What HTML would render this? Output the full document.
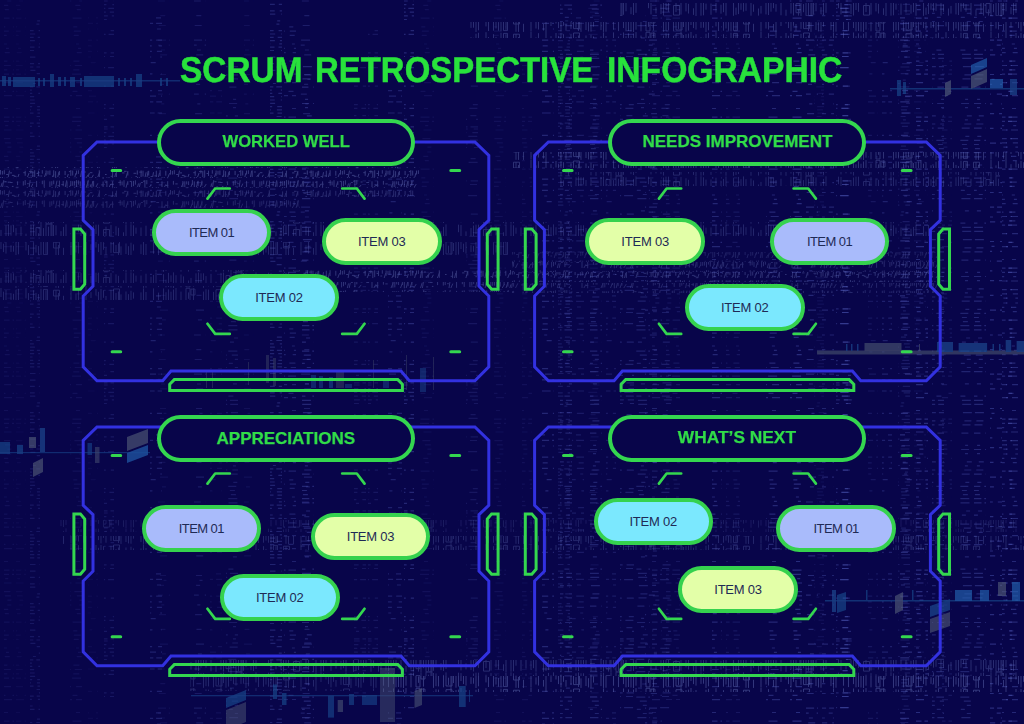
<!DOCTYPE html>
<html><head><meta charset="utf-8"><title>Scrum Retrospective Infographic</title>
<style>
html,body{margin:0;padding:0;}
body{width:1024px;height:724px;overflow:hidden;background:#08054a;position:relative;font-family:"Liberation Sans",sans-serif;}
#art{position:absolute;left:0;top:0;width:1024px;height:724px;}
.title{position:absolute;top:50px;height:40px;line-height:40px;font-size:35.8px;font-weight:bold;color:#28e23c;-webkit-text-stroke:0.5px #28e23c;text-rendering:geometricPrecision;white-space:nowrap;transform-origin:0 50%;}
.head{position:absolute;box-sizing:border-box;width:258px;height:47px;line-height:39px;border:4px solid #34d74f;border-radius:24px;background:#08054a;color:#31dc48;-webkit-text-stroke:0.25px #31dc48;font-weight:bold;font-size:17px;text-align:center;white-space:nowrap;}
.head span{display:inline-block;}
.item{position:absolute;box-sizing:border-box;width:119.5px;height:47px;border:4px solid #35d24e;border-radius:24px;color:#1f2a55;font-size:13px;letter-spacing:-0.22px;text-align:center;line-height:39px;white-space:nowrap;}
.c1{background:#a9bbfb;letter-spacing:-0.55px;}
.c2{background:#7be8fe;}
.c3{background:#e3ffa8;}
</style></head>
<body>
<svg id="art" width="1024" height="724" viewBox="0 0 1024 724">
<defs>
<filter id="soft" x="0" y="0" width="1024" height="724" filterUnits="userSpaceOnUse"><feGaussianBlur stdDeviation="0.45"/></filter>
<pattern id="dc0" width="12" height="128" patternUnits="userSpaceOnUse"><path d="M5.7,1h6 M4.4,4.7h6 M0.3,8.4h9 M1.8,12.1h8 M3.8,15.8h8 M5.9,19.5h5 M2.6,30.6h5 M0.6,34.3h9 M2.6,52.8h8 M2,56.5h7 M0.1,67.6h9 M2.8,86.1h7 M4.8,104.6h5 M1.4,108.3h8 M2.4,115.7h6 M8,119.4h3 M2.5,126.8h9" stroke="#5a66c8" stroke-width="1.2" fill="none"/></pattern>
<pattern id="dc1" width="12" height="151" patternUnits="userSpaceOnUse"><path d="M7.3,1h4 M3.3,5.3h5 M4.8,9.6h4 M0.6,18.2h9 M1.3,26.8h4 M1.8,31.1h7 M1.7,35.4h5 M3.9,44h3 M5.9,48.3h3 M4.7,52.6h5 M1.4,61.2h6 M2.7,65.5h8 M1.3,69.8h6 M0.1,74.1h9 M4.1,82.7h7 M0.5,91.3h5 M4,95.6h8 M4,108.5h4 M0.5,117.1h9 M0,121.4h9 M5.2,125.7h3 M3.5,130h8 M2.4,138.6h8 M4.8,142.9h6 M7.4,147.2h4" stroke="#5a66c8" stroke-width="1.2" fill="none"/></pattern>
<pattern id="dc2" width="12" height="167" patternUnits="userSpaceOnUse"><path d="M1.8,1h7 M4.3,15.7h5 M2.7,25.5h7 M1.1,40.2h9 M0.7,45.1h4 M4.9,50h4 M4.2,54.9h7 M4,74.5h6 M7.5,79.4h3 M4.1,84.3h4 M0.8,94.1h6 M5.3,103.9h3 M3.1,113.7h7 M4.5,128.4h5 M4,143.1h8 M5.9,152.9h4" stroke="#5a66c8" stroke-width="1.2" fill="none"/></pattern>
<pattern id="dc3" width="12" height="191" patternUnits="userSpaceOnUse"><path d="M2.8,4.3h8 M3.7,10.9h7 M5.3,14.2h6 M1.2,20.8h3 M0.4,24.1h3 M2.6,30.7h7 M5.2,34h6 M1.7,37.3h8 M3.9,40.6h7 M3.3,43.9h3 M2.5,47.2h8 M5,50.5h5 M4.4,57.1h7 M2.1,63.7h8 M0.4,67h9 M6.4,70.3h5 M0.7,73.6h5 M2.8,80.2h3 M8.9,83.5h3 M0.3,86.8h9 M4.9,90.1h3 M2.3,93.4h6 M5.2,96.7h5 M4.7,100h6 M6.1,103.3h5 M1.2,106.6h7 M0.9,109.9h6 M1.5,113.2h8 M0.6,116.5h5 M2.9,119.8h3 M0.7,123.1h9 M1.9,126.4h6 M3.7,133h5 M2.5,136.3h8 M0.9,146.2h5 M0.3,149.5h8 M3.8,152.8h6 M4.9,156.1h6 M0.9,159.4h9 M2.2,162.7h8 M3.6,166h5 M2.3,169.3h7 M1.3,172.6h9 M1.3,175.9h9 M3.5,182.5h8 M5.5,189.1h6" stroke="#5a66c8" stroke-width="1.2" fill="none"/></pattern>
<pattern id="dc4" width="12" height="139" patternUnits="userSpaceOnUse"><path d="M0,17.8h5 M0.1,23.4h9 M0.9,29h4 M0.2,40.2h8 M2.7,45.8h5 M0.9,51.4h7 M4.2,57h3 M6.7,62.6h5 M5.4,73.8h3 M2.1,90.6h6 M5,96.2h7 M0.3,101.8h9 M1.6,113h9 M0.9,135.4h7" stroke="#5a66c8" stroke-width="1.2" fill="none"/></pattern>
<pattern id="dc5" width="12" height="173" patternUnits="userSpaceOnUse"><path d="M0.3,5.1h9 M3.8,9.2h7 M6.8,13.3h4 M0.8,17.4h4 M6.8,21.5h4 M1.4,25.6h9 M4.9,37.9h4 M0.4,50.2h5 M1.9,54.3h9 M2.2,58.4h9 M2.9,66.6h9 M4.4,74.8h7 M2.5,78.9h8 M1.4,87.1h7 M5.1,99.4h3 M1.1,103.5h8 M5,107.6h3 M6.8,115.8h5 M4.9,119.9h3 M4.3,124h7 M1.7,128.1h8 M5.3,136.3h4 M0.3,140.4h8 M1.9,144.5h5 M2.9,148.6h5 M0.3,152.7h9 M0.5,156.8h9 M6.1,165h4 M1.9,169.1h4" stroke="#5a66c8" stroke-width="1.2" fill="none"/></pattern>
<pattern id="tk0" width="190" height="16" patternUnits="userSpaceOnUse"><path d="M1,5.9v7.7 M6,1.3v13.1 M8.5,0.5v14.5 M11,1.3v10.4 M13.5,1.3v6.9 M16,4.1v7.6 M21,2.7v12.6 M26,9.7v6.1 M31,0.9v12.7 M33.5,0.6v14.9 M36,3.5v9.2 M36,3.5h4v9.2h-4 M38.5,9.3v6.3 M41,0.2v15.8 M43.5,4.1v8.1 M46,0.1v15.7 M46,0.1h6v15.7h-6 M48.5,2.7v12.4 M51,0.5v15.5 M53.5,1v13.8 M56,1.4v9.9 M61,7.2v7 M63.5,2.9v12.1 M66,0.4v12.5 M78.5,0.7v7.5 M81,1.1v13.3 M86,7.4v6 M91,4.1v10 M93.5,1.5v14 M96,0.7v9.3 M98.5,0.7v11.1 M103.5,5.5v9.6 M103.5,5.5h6v9.6h-6 M106,2.7v9.4 M111,1.1v13.5 M116,2.3v9.1 M118.5,3.8v9.7 M123.5,8.3v6.6 M126,0.4v15.6 M131,0.3v15.4 M133.5,1.3v14 M136,3.6v6.1 M141,3.5v11.3 M146,1.7v10.9 M151,4.7v9 M153.5,2.9v9.3 M156,0.5v15.2 M163.5,2.2v13.6 M166,7.6v7.3 M168.5,0.9v13.2 M171,3.3v6.6 M173.5,0.4v11.2 M176,3.2v7.6 M181,2.5v13.2 M183.5,4.4v7.4 M188.5,8.5v7.1" stroke="#6f7fc4" stroke-width="0.9" fill="none"/></pattern>
<pattern id="tk1" width="230" height="16" patternUnits="userSpaceOnUse"><path d="M1,0v9 M3.5,3.7v8.4 M6,2.1v11.5 M11,5.2v6.7 M13.5,5.8v5.9 M16,1.7v14.3 M18.5,0.8v13.5 M26,0.2v10.2 M28.5,5.1v9.9 M33.5,2.2v12.5 M36,4.9v7.6 M38.5,6.1v8.6 M41,0.7v14.7 M43.5,1.4v13.2 M43.5,1.4h4v13.2h-4 M46,2.2v11.7 M53.5,2.2v5.8 M53.5,2.2h6v5.8h-6 M56,2.1v13.7 M58.5,5v10.9 M63.5,7.8v8.1 M71,0v15.6 M76,5.4v7.1 M78.5,1.2v12.3 M83.5,8v6.6 M86,0v16 M91,4.2v5.8 M96,1v6.5 M98.5,3.8v8.3 M101,0.9v14.5 M103.5,2.2v7.6 M106,8v6.7 M111,1.8v11.1 M113.5,1v11.6 M113.5,1h6v11.6h-6 M116,5.1v6.7 M118.5,3.5v11.5 M121,6.4v9.5 M126,3.5v10.5 M128.5,6.2v9.2 M131,2.7v13 M133.5,4.4v6.2 M141,4.4v9.7 M143.5,0.4v15.5 M146,4v11.7 M153.5,0.4v13.3 M158.5,4.6v10.5 M163.5,0.5v11.6 M166,4.3v11 M168.5,1.4v13.6 M171,3.7v11.8 M173.5,1.5v14.5 M176,0.1v13.6 M181,3.6v11.7 M186,0.3v14.7 M186,0.3h4v14.7h-4 M188.5,4.4v6.4 M191,1.1v5.9 M191,1.1h4v5.9h-4 M193.5,0.3v14.3 M203.5,3.6v12.2 M206,1.3v12.9 M208.5,1.6v12.8 M213.5,3.9v11.4 M216,1.7v12.3 M216,1.7h6v12.3h-6 M218.5,5.7v7.2 M221,0v15.8 M223.5,3v8 M226,2.1v13.6 M228.5,1.6v13" stroke="#6f7fc4" stroke-width="0.9" fill="none"/></pattern>
<pattern id="gl0" width="170" height="10" patternUnits="userSpaceOnUse"><path d="M0.5,0v4.6 M2.4,0.9v3.7 M4.3,0.2v4.1 M6.2,4.5h2.3 M8.1,8l1.4,-7.4 M10,2.9h2 M11.9,5.4h2.7 M13.8,6.3h2.7 M15.7,7.7h2.6 M17.6,8l1.4,-4 M23.3,2.7h2.1 M25.2,0.8v5 M27.1,8l2,-5 M29,1.6h3 M30.9,0.3v3.2 M32.8,0.9v7.2 M34.7,0.3v6.9 M36.6,3.5h2.4 M38.5,0.7v5.3 M40.4,6h1.8 M42.3,0.2v3.5 M44.2,8l1.5,-4.8 M46.1,0.5v5.3 M48,0.8v3.7 M49.9,0.5v4.4 M51.8,8l1.9,-3.6 M53.7,0.3v6.6 M55.6,1.2v6.9 M57.5,8l1.5,-6.1 M59.4,1v4.1 M65.1,0.9v4.2 M67,8l1.3,-4 M68.9,1.6h1.7 M70.8,0.1v5.8 M72.7,0.6v4.9 M74.6,8l1.2,-4.8 M76.5,0.6v3.9 M78.4,0.3v3.6 M80.3,8l1.3,-7.2 M82.2,0.5v7.4 M84.1,2h1.7 M86,8l2.3,-3.5 M87.9,8l1.4,-5 M89.8,2.7h2.6 M91.7,8l1.7,-3.2 M97.4,8l2.4,-6.1 M99.3,0.3v7.5 M105,4.5h1.6 M110.7,6.3h2.1 M112.6,1.4v6.8 M114.5,8l1.3,-5 M116.4,0.7v7.2 M122.1,2.9h2.4 M124,1.3h2.6 M125.9,8l1.7,-5.9 M127.8,1v4.5 M133.5,3.3h2.8 M135.4,6.7h1.7 M137.3,0.4v4.3 M139.2,2.1h2.8 M141.1,0.4v6.8 M143,0.7v5.8 M144.9,8l1.2,-5.7 M146.8,8l1.4,-7 M148.7,0.8v4.7 M150.6,6.6h2 M152.5,8l1,-5.8 M154.4,5.9h2.7 M156.3,0.7v7.3 M158.2,8l1.3,-5.2 M160.1,0.2v5.9 M165.8,0.8v4.9 M167.7,8l1.9,-4.8" stroke="#7380c4" stroke-width="1" fill="none"/></pattern>
<pattern id="gl1" width="210" height="10" patternUnits="userSpaceOnUse"><path d="M0.5,8l1.7,-5.3 M2.4,8l1.4,-7.9 M4.3,1.7h2.2 M6.2,6.9h2 M8.1,2.2h2.7 M10,2.5h2.6 M11.9,6.4h1.5 M17.6,1.4v3.7 M23.3,1.2v4.4 M25.2,0.1v5 M27.1,3.7h1.7 M29,8l1.2,-7.8 M30.9,8l1.9,-4.4 M36.6,0.9v6.9 M42.3,0.7v3.5 M44.2,0.4v6.5 M49.9,1.4v5.7 M51.8,1.2v4.5 M53.7,0.5v3.7 M55.6,8l1.4,-7.3 M57.5,5.7h1.6 M59.4,0.6v6.8 M61.3,4.6h2.7 M63.2,1v5.2 M65.1,8l1.6,-7.7 M67,1.4v5.4 M68.9,8l1.8,-3.2 M70.8,0.9v5.1 M72.7,1.2v4.6 M74.6,1.2v4.4 M76.5,0.1v7.3 M78.4,0.4v4.2 M80.3,1.4v5.2 M82.2,8l2.3,-3.8 M84.1,1.1v4 M86,8l2.5,-7.6 M87.9,0.6v6 M89.8,8l1.2,-3.6 M91.7,8l1,-6.9 M93.6,0.9v5.7 M95.5,8l2.3,-4.6 M101.2,4.9h2.4 M103.1,1.5v7.4 M105,2.2h2.1 M106.9,0.9v6.8 M108.8,8l1.8,-3.9 M110.7,4.2h2.9 M112.6,1.3v6.5 M118.3,2.4h2.8 M120.2,0.2v5.4 M122.1,1.4v3.9 M124,0.2v6.7 M125.9,8l1.6,-5.7 M127.8,1.1v3.8 M129.7,1.4h2 M131.6,1.4v6 M133.5,0.9v5.3 M135.4,0.3v4.4 M137.3,8l1.2,-4.5 M139.2,8l1.1,-5.2 M141.1,2.5h1.7 M143,1.2h2 M144.9,0.1v7 M146.8,0.1v4.2 M148.7,8l2.5,-3.1 M150.6,2h1.9 M156.3,2.5h2.8 M162,1.3v6.6 M163.9,8l2.1,-3.7 M165.8,5.5h2.4 M167.7,1.2v7.1 M173.4,0.9v3.8 M175.3,3.9h2.4 M181,8l2.3,-5.5 M182.9,1v6.7 M184.8,1.3v6.1 M186.7,1.3v3.1 M188.6,1.3v3.7 M190.5,8l1.9,-4.8 M192.4,0.1v4.9 M194.3,1.4v6.9 M196.2,8l1.7,-6.8 M198.1,0.8v5.4 M200,8l2.1,-6.2 M201.9,0.7v4.9 M203.8,8l2.4,-3.9" stroke="#7380c4" stroke-width="1" fill="none"/></pattern>
<g id="frame" fill="none" stroke-linejoin="miter">
<path stroke="#3231e0" stroke-width="3" d="M97,142 L474.9,142 L488.8,155.5 L488.8,220.3 L479,229.6 L479,286.2 L488.8,296 L488.8,366.8 L474.9,380.8 L409.3,380.8 L401,371 L171,371 L162.7,380.8 L97,380.8 L83.2,366.8 L83.2,296 L93,286.2 L93,229.6 L83.2,220.3 L83.2,155.5 Z"/>
<g stroke="#34d74f" stroke-width="3">
<path d="M73.9,228.9 L80.4,228.9 L84.7,234 L84.7,284.1 L80.4,289.2 L73.9,289.2 Z"/>
<path d="M498.1,228.9 L491.6,228.9 L487.3,234 L487.3,284.1 L491.6,289.2 L498.1,289.2 Z"/>
<path d="M169.7,390.6 L169.7,384.3 L174.3,379.6 L397.8,379.6 L402.4,384.3 L402.4,390.6 Z"/>
<path d="M112.1,170.6 H120.7 M450.8,170.6 H459.7 M112.1,351.7 H120.7 M450.8,351.7 H459.7" stroke-linecap="round"/>
<path d="M207.5,198.6 L215.2,188.5 L229.8,188.5 M342.2,188.5 L356.8,188.5 L364.5,198.6 M207.5,323.8 L215.2,333.9 L229.8,333.9 M342.2,333.9 L356.8,333.9 L364.5,323.8" stroke-width="2.7" stroke-linecap="round" stroke-linejoin="round"/>
</g>
</g>
</defs>
<g id="texture" filter="url(#soft)">
<rect x="4" y="0" width="10" height="724" fill="url(#dc1)" opacity="0.12"/>
<rect x="16" y="0" width="10" height="724" fill="url(#dc1)" opacity="0.07"/>
<rect x="30" y="20" width="10" height="704" fill="url(#dc3)" opacity="0.19"/>
<rect x="70" y="0" width="12" height="724" fill="url(#dc1)" opacity="0.12"/>
<rect x="88" y="0" width="10" height="724" fill="url(#dc4)" opacity="0.07"/>
<rect x="104" y="0" width="10" height="700" fill="url(#dc0)" opacity="0.19"/>
<rect x="158" y="0" width="12" height="724" fill="url(#dc2)" opacity="0.12"/>
<rect x="194" y="0" width="12" height="724" fill="url(#dc2)" opacity="0.22"/>
<rect x="210" y="60" width="12" height="664" fill="url(#dc4)" opacity="0.12"/>
<rect x="226" y="60" width="12" height="664" fill="url(#dc5)" opacity="0.22"/>
<rect x="244" y="0" width="10" height="700" fill="url(#dc2)" opacity="0.12"/>
<rect x="284" y="20" width="12" height="680" fill="url(#dc1)" opacity="0.28"/>
<rect x="302" y="60" width="12" height="664" fill="url(#dc5)" opacity="0.34"/>
<rect x="354" y="60" width="12" height="640" fill="url(#dc0)" opacity="0.18"/>
<rect x="368" y="20" width="10" height="640" fill="url(#dc0)" opacity="0.18"/>
<rect x="388" y="60" width="14" height="664" fill="url(#dc4)" opacity="0.28"/>
<rect x="404" y="0" width="10" height="724" fill="url(#dc0)" opacity="0.34"/>
<rect x="420" y="0" width="14" height="660" fill="url(#dc1)" opacity="0.12"/>
<rect x="466" y="60" width="12" height="600" fill="url(#dc0)" opacity="0.18"/>
<rect x="494" y="0" width="12" height="724" fill="url(#dc1)" opacity="0.12"/>
<rect x="522" y="60" width="10" height="664" fill="url(#dc1)" opacity="0.12"/>
<rect x="542" y="20" width="12" height="704" fill="url(#dc4)" opacity="0.34"/>
<rect x="558" y="20" width="12" height="640" fill="url(#dc3)" opacity="0.22"/>
<rect x="572" y="0" width="12" height="660" fill="url(#dc4)" opacity="0.22"/>
<rect x="588" y="0" width="12" height="724" fill="url(#dc0)" opacity="0.12"/>
<rect x="606" y="20" width="10" height="704" fill="url(#dc4)" opacity="0.22"/>
<rect x="620" y="20" width="14" height="704" fill="url(#dc0)" opacity="0.28"/>
<rect x="636" y="20" width="14" height="704" fill="url(#dc5)" opacity="0.28"/>
<rect x="652" y="0" width="10" height="724" fill="url(#dc1)" opacity="0.22"/>
<rect x="666" y="0" width="14" height="700" fill="url(#dc1)" opacity="0.18"/>
<rect x="712" y="0" width="10" height="724" fill="url(#dc1)" opacity="0.34"/>
<rect x="726" y="20" width="14" height="704" fill="url(#dc1)" opacity="0.18"/>
<rect x="766" y="20" width="14" height="704" fill="url(#dc1)" opacity="0.34"/>
<rect x="814" y="0" width="10" height="660" fill="url(#dc3)" opacity="0.12"/>
<rect x="840" y="0" width="12" height="724" fill="url(#dc0)" opacity="0.34"/>
<rect x="868" y="20" width="10" height="704" fill="url(#dc4)" opacity="0.18"/>
<rect x="882" y="60" width="10" height="600" fill="url(#dc4)" opacity="0.28"/>
<rect x="898" y="0" width="12" height="724" fill="url(#dc3)" opacity="0.22"/>
<rect x="914" y="0" width="12" height="700" fill="url(#dc4)" opacity="0.12"/>
<rect x="942" y="60" width="10" height="664" fill="url(#dc1)" opacity="0.18"/>
<rect x="974" y="0" width="12" height="660" fill="url(#dc5)" opacity="0.34"/>
<rect x="1002" y="0" width="10" height="724" fill="url(#dc1)" opacity="0.34"/>
<rect x="790" y="0" width="12" height="724" fill="url(#dc1)" opacity="0.4"/>
<rect x="806" y="0" width="12" height="724" fill="url(#dc2)" opacity="0.35"/>
<rect x="822" y="0" width="12" height="724" fill="url(#dc2)" opacity="0.3"/>
<rect x="900" y="0" width="12" height="724" fill="url(#dc4)" opacity="0.38"/>
<rect x="916" y="0" width="12" height="724" fill="url(#dc1)" opacity="0.4"/>
<rect x="932" y="0" width="12" height="724" fill="url(#dc5)" opacity="0.3"/>
<rect x="990" y="0" width="12" height="724" fill="url(#dc2)" opacity="0.4"/>
<rect x="1006" y="0" width="12" height="724" fill="url(#dc1)" opacity="0.35"/>
<rect x="560" y="0" width="12" height="724" fill="url(#dc5)" opacity="0.3"/>
<rect x="590" y="0" width="12" height="724" fill="url(#dc5)" opacity="0.3"/>
<rect x="645" y="0" width="12" height="724" fill="url(#dc2)" opacity="0.3"/>
<rect x="150" y="0" width="12" height="724" fill="url(#dc4)" opacity="0.28"/>
<rect x="270" y="0" width="12" height="724" fill="url(#dc3)" opacity="0.3"/>
<rect x="300" y="0" width="12" height="724" fill="url(#dc2)" opacity="0.25"/>
<rect x="660" y="0" width="12" height="724" fill="url(#dc0)" opacity="0.25"/>
<rect x="836" y="0" width="12" height="724" fill="url(#dc0)" opacity="0.3"/>
<rect x="960" y="0" width="12" height="724" fill="url(#dc5)" opacity="0.3"/>
<rect x="620" y="3" width="404" height="13" fill="url(#tk0)" opacity="0.36"/>
<rect x="470" y="22" width="554" height="16" fill="url(#tk1)" opacity="0.38"/>
<rect x="0" y="167" width="420" height="10" fill="url(#gl0)" opacity="0.42"/>
<rect x="0" y="177" width="420" height="10" fill="url(#gl1)" opacity="0.4"/>
<rect x="0" y="187" width="415" height="10" fill="url(#gl0)" opacity="0.3"/>
<rect x="0" y="198" width="300" height="10" fill="url(#gl1)" opacity="0.26"/>
<rect x="0" y="222" width="512" height="14" fill="url(#tk0)" opacity="0.32"/>
<rect x="0" y="242" width="512" height="13" fill="url(#tk1)" opacity="0.3"/>
<rect x="0" y="270" width="300" height="13" fill="url(#tk0)" opacity="0.28"/>
<rect x="0" y="286" width="290" height="14" fill="url(#tk1)" opacity="0.3"/>
<rect x="300" y="270" width="212" height="10" fill="url(#gl0)" opacity="0.38"/>
<rect x="300" y="282" width="212" height="10" fill="url(#gl1)" opacity="0.36"/>
<rect x="512" y="152" width="512" height="16" fill="url(#tk1)" opacity="0.4"/>
<rect x="560" y="172" width="440" height="14" fill="url(#tk0)" opacity="0.3"/>
<rect x="512" y="222" width="420" height="14" fill="url(#tk0)" opacity="0.3"/>
<rect x="512" y="252" width="425" height="10" fill="url(#gl0)" opacity="0.22"/>
<rect x="512" y="262" width="425" height="10" fill="url(#gl1)" opacity="0.3"/>
<rect x="512" y="272" width="425" height="10" fill="url(#gl0)" opacity="0.34"/>
<rect x="512" y="283" width="425" height="10" fill="url(#gl1)" opacity="0.28"/>
<rect x="60" y="520" width="964" height="12" fill="url(#tk0)" opacity="0.2"/>
<rect x="60" y="536" width="964" height="14" fill="url(#tk1)" opacity="0.3"/>
<rect x="190" y="660" width="834" height="16" fill="url(#tk0)" opacity="0.35"/>
<rect x="190" y="676" width="190" height="15" fill="url(#tk1)" opacity="0.3"/>
<rect x="380" y="676" width="644" height="16" fill="url(#tk1)" opacity="0.46"/>
</g>
<g id="charts" opacity="0.75" filter="url(#soft)">
<rect x="0" y="80" width="180" height="1.5" fill="#1c4f94" opacity="0.7"/>
<rect x="2" y="76" width="4" height="10" fill="#1c4f94" opacity="0.8"/>
<rect x="8" y="77" width="3" height="9" fill="#1c4f94" opacity="0.8"/>
<rect x="13" y="77" width="22" height="10" fill="#1c4f94" opacity="0.8"/>
<rect x="38" y="78" width="2" height="8" fill="#1c4f94" opacity="0.8"/>
<rect x="43" y="78" width="2" height="8" fill="#1c4f94" opacity="0.8"/>
<rect x="50" y="74" width="4" height="13" fill="#1c4f94" opacity="0.8"/>
<rect x="58" y="77" width="3" height="9" fill="#1c4f94" opacity="0.8"/>
<rect x="64" y="77" width="2" height="9" fill="#1c4f94" opacity="0.8"/>
<rect x="70" y="77" width="5" height="10" fill="#1c4f94" opacity="0.8"/>
<rect x="80" y="78" width="2" height="8" fill="#1c4f94" opacity="0.8"/>
<rect x="84" y="76" width="30" height="11" fill="#1c4f94" opacity="0.8"/>
<rect x="118" y="78" width="2" height="8" fill="#1c4f94" opacity="0.8"/>
<rect x="124" y="78" width="2" height="8" fill="#1c4f94" opacity="0.8"/>
<rect x="130" y="78" width="2" height="8" fill="#1c4f94" opacity="0.8"/>
<rect x="136" y="74" width="6" height="13" fill="#1c4f94" opacity="0.8"/>
<rect x="160" y="78" width="2" height="8" fill="#1c4f94" opacity="0.8"/>
<rect x="166" y="78" width="2" height="8" fill="#1c4f94" opacity="0.8"/>
<rect x="890" y="88" width="134" height="1.5" fill="#1c4f94" opacity="0.8"/>
<rect x="897" y="80" width="4" height="16" fill="#1c4f94" opacity="0.8"/>
<rect x="903" y="82" width="3" height="12" fill="#1c4f94" opacity="0.8"/>
<path d="M945,83 l6,-3 v14 l-6,3 z" fill="#56607a" opacity="0.85"/>
<path d="M971,65 l16,-7 v9 l-16,7 z" fill="#2366b4" opacity="0.85"/>
<path d="M971,76 l16,-7 v13 l-16,7 z" fill="#56607a" opacity="0.85"/>
<rect x="990" y="79" width="13" height="9" fill="#2366b4" opacity="0.85"/>
<rect x="1010" y="79" width="7" height="16" fill="#1c4f94" opacity="0.85"/>
<rect x="0" y="452" width="150" height="1.2" fill="#1c4f94" opacity="0.7"/>
<rect x="0" y="442" width="10" height="12" fill="#1c4f94" opacity="0.8"/>
<rect x="17" y="445" width="6" height="9" fill="#1c4f94" opacity="0.8"/>
<rect x="29" y="437" width="7" height="11" fill="#56607a" opacity="0.8"/>
<rect x="40" y="428" width="5" height="24" fill="#1c4f94" opacity="0.85"/>
<path d="M33,463 l10,-5 v14 l-10,5 z" fill="#56607a" opacity="0.8"/>
<path d="M127,437 l21,-8 v14 l-21,8 z" fill="#56607a" opacity="0.8"/>
<path d="M127,453 l21,-8 v10 l-21,8 z" fill="#2366b4" opacity="0.85"/>
<rect x="95" y="447" width="4.5" height="16" fill="#56607a" opacity="0.6"/>
<rect x="87.5" y="443" width="4.5" height="12" fill="#1c4f94" opacity="0.7"/>
<rect x="817" y="350.5" width="207" height="4" fill="#4a5570" opacity="0.8"/>
<rect x="846" y="344" width="1.5" height="7" fill="#1c4f94" opacity="0.85"/>
<rect x="851" y="344" width="1.5" height="7" fill="#1c4f94" opacity="0.85"/>
<rect x="857" y="344" width="1.5" height="7" fill="#1c4f94" opacity="0.85"/>
<rect x="864.5" y="343" width="37" height="8" fill="#4a5570" opacity="0.85"/>
<rect x="919" y="344" width="1" height="7" fill="#4a5570" opacity="0.85"/>
<rect x="937" y="342" width="16" height="10" fill="#1c4f94" opacity="0.85"/>
<rect x="958.6" y="343" width="28.5" height="9" fill="#1c4f94" opacity="0.85"/>
<rect x="992.5" y="344" width="1.5" height="7" fill="#1c4f94" opacity="0.85"/>
<rect x="999" y="344" width="1.5" height="7" fill="#1c4f94" opacity="0.85"/>
<rect x="1005.7" y="340" width="5.5" height="12" fill="#1c4f94" opacity="0.85"/>
<rect x="1016.6" y="341" width="8" height="11" fill="#1c4f94" opacity="0.85"/>
<rect x="825" y="600" width="199" height="1.5" fill="#1c4f94" opacity="0.8"/>
<rect x="832" y="590" width="4" height="22" fill="#1c4f94" opacity="0.85"/>
<path d="M837,595 l9,-3 v18 l-9,3 z" fill="#1c4f94" opacity="0.8"/>
<rect x="866" y="590" width="1.5" height="10" fill="#1c4f94" opacity="0.8"/>
<rect x="912" y="590" width="1.5" height="10" fill="#1c4f94" opacity="0.8"/>
<path d="M895,596 l8,-4 v18 l-8,4 z" fill="#56607a" opacity="0.8"/>
<path d="M930,606 l20,-7 v11 l-20,7 z" fill="#1c4f94" opacity="0.85"/>
<path d="M930,619 l20,-7 v14 l-20,7 z" fill="#56607a" opacity="0.75"/>
<rect x="955" y="590" width="17" height="11" fill="#2366b4" opacity="0.85"/>
<rect x="980" y="590" width="9" height="11" fill="#2366b4" opacity="0.85"/>
<rect x="998" y="582" width="8" height="14" fill="#56607a" opacity="0.8"/>
<rect x="1012" y="582" width="8" height="19" fill="#2366b4" opacity="0.85"/>
<rect x="191" y="695" width="282" height="1.3" fill="#1c4f94" opacity="0.7"/>
<path d="M226,698 l20,-8 v10 l-20,8 z" fill="#1c4f94" opacity="0.8"/>
<path d="M226,710 l20,-8 v20 l-20,8 z" fill="#56607a" opacity="0.6"/>
<rect x="273" y="684.5" width="4" height="14.5" fill="#1c4f94" opacity="0.8"/>
<rect x="282" y="693" width="4.5" height="12" fill="#1c4f94" opacity="0.8"/>
<rect x="328" y="695.6" width="6" height="22" fill="#1c4f94" opacity="0.75"/>
<rect x="337.7" y="700" width="5.3" height="12" fill="#56607a" opacity="0.7"/>
<rect x="349" y="694" width="5" height="11" fill="#1c4f94" opacity="0.75"/>
<rect x="362" y="695" width="15" height="10" fill="#1c4f94" opacity="0.7"/>
<rect x="380" y="668" width="15" height="54" fill="#56607a" opacity="0.55"/>
<path d="M414.5,691 l7.5,-3 v17 l-7.5,3 z" fill="#56607a" opacity="0.7"/>
<rect x="459" y="686" width="6.7" height="21" fill="#1c4f94" opacity="0.8"/>
<rect x="469" y="690" width="1" height="12" fill="#1c4f94" opacity="0.7"/>
<rect x="266" y="355" width="3" height="28" fill="#4a5570" opacity="0.5"/>
<rect x="273" y="358" width="3" height="28" fill="#4a5570" opacity="0.5"/>
<rect x="206" y="372" width="1" height="16" fill="#4a5570" opacity="0.5"/>
<rect x="212" y="372" width="1" height="16" fill="#4a5570" opacity="0.5"/>
<rect x="248" y="362" width="1" height="23" fill="#4a5570" opacity="0.5"/>
<rect x="311" y="375" width="5" height="13" fill="#1c4f94" opacity="0.6"/>
<rect x="319" y="376" width="4" height="12" fill="#1c4f94" opacity="0.6"/>
<rect x="329" y="377" width="4" height="11" fill="#1c4f94" opacity="0.7"/>
<rect x="336" y="370" width="8" height="18" fill="#4a5570" opacity="0.5"/>
<rect x="345" y="384" width="7" height="4" fill="#1c4f94" opacity="0.6"/>
<rect x="373" y="360" width="1" height="28" fill="#4a5570" opacity="0.5"/>
<rect x="383" y="380" width="6" height="8" fill="#1c4f94" opacity="0.6"/>
<rect x="406" y="355" width="1" height="35" fill="#4a5570" opacity="0.5"/>
<rect x="420" y="368" width="6" height="24" fill="#1c4f94" opacity="0.6"/>
<rect x="433" y="357" width="1" height="33" fill="#4a5570" opacity="0.5"/>
</g>
<use href="#frame"/>
<use href="#frame" transform="translate(451.4,0)"/>
<use href="#frame" transform="translate(0,285)"/>
<use href="#frame" transform="translate(451.4,285)"/>
</svg>
<div class="title" style="left:180.4px;transform:translateY(-0.35px) scaleX(0.933);">SCRUM</div>
<div class="title" style="left:315.4px;transform:translateY(-0.35px) scaleX(0.920);">RETROSPECTIVE</div>
<div class="title" style="left:607.4px;transform:translateY(-0.35px) scaleX(0.939);">INFOGRAPHIC</div>

<div class="head" style="left:156.8px;top:118.6px;line-height:37px;"><span style="transform:scaleX(0.978)">WORKED WELL</span></div>
<div class="head" style="left:608.4px;top:118.6px;line-height:37px;"><span>NEEDS IMPROVEMENT</span></div>
<div class="head" style="left:156.8px;top:415.4px;"><span>APPRECIATIONS</span></div>
<div class="head" style="left:608.4px;top:415.2px;line-height:37px;"><span style="transform:scaleX(1.02)">WHAT’S NEXT</span></div>

<div class="item c1" style="left:151.8px;top:209px;">ITEM 01</div>
<div class="item c3" style="left:322px;top:218.4px;">ITEM 03</div>
<div class="item c2" style="left:219.2px;top:273.7px;">ITEM 02</div>

<div class="item c3" style="left:585.4px;top:218.4px;">ITEM 03</div>
<div class="item c1" style="left:769.8px;top:218.4px;">ITEM 01</div>
<div class="item c2" style="left:685px;top:283.8px;">ITEM 02</div>

<div class="item c1" style="left:141.6px;top:505px;">ITEM 01</div>
<div class="item c3" style="left:310.8px;top:512.5px;">ITEM 03</div>
<div class="item c2" style="left:220px;top:573.7px;">ITEM 02</div>

<div class="item c2" style="left:593.5px;top:497.8px;">ITEM 02</div>
<div class="item c1" style="left:776.4px;top:505px;">ITEM 01</div>
<div class="item c3" style="left:678.3px;top:566.2px;">ITEM 03</div>
</body></html>
